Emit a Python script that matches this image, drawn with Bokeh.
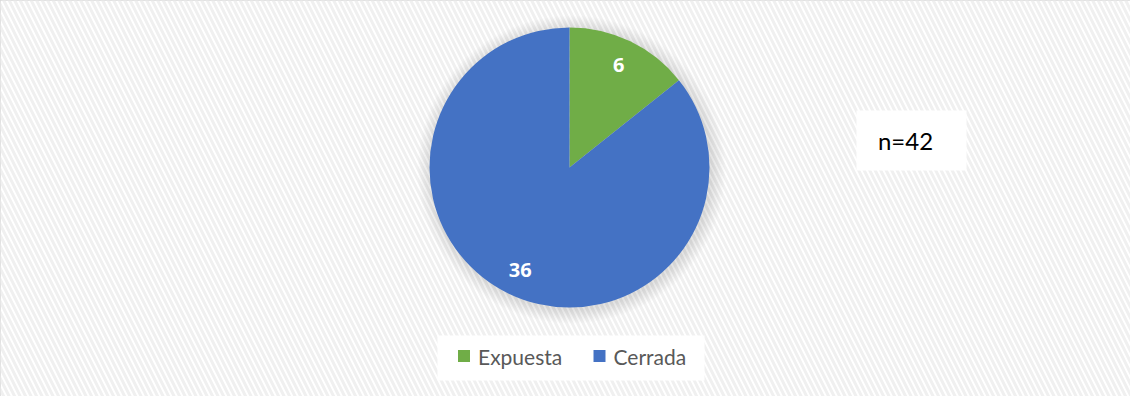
import math
from bokeh.plotting import figure
from bokeh.models import Range1d, ColumnDataSource
from bokeh.core.properties import value
from bokeh.embed import file_html
from bokeh.resources import INLINE

# ---- data ----
categories = ["Expuesta", "Cerrada"]
values = [6, 36]
colors = ["#70AD47", "#4472C4"]
note_text = "n=42"

W, H = 1130, 396
p = figure(width=W, height=H, output_backend="svg", toolbar_location=None,
           x_range=Range1d(0, W), y_range=Range1d(0, H), min_border=0)
p.axis.visible = False
p.grid.visible = False
p.outline_line_color = "#d9d9d9"
p.outline_line_width = 2
p.background_fill_color = "white"
p.border_fill_color = "white"

# hatched background
p.quad(left=[0], right=[W], bottom=[0], top=[H], fill_color="white",
       line_color=None, hatch_pattern="\\", hatch_color="#f0f0f0",
       hatch_scale=11, hatch_weight=3)

cx, cy, r = 569, 229, 140

# soft shadow
for k in range(14, 0, -1):
    p.circle(x=[cx + 2], y=[cy - 2], radius=r + k, fill_color="#a0a0a0",
             fill_alpha=0.025, line_color=None)

total = sum(values)
starts, ends, mids = [], [], []
cum = 0.0
for v in values:
    a0 = 90 - (cum + v) / total * 360
    a1 = 90 - cum / total * 360
    starts.append(math.radians(a0))
    ends.append(math.radians(a1))
    mids.append(math.radians((a0 + a1) / 2))
    cum += v

src = ColumnDataSource(dict(cat=categories, val=values, color=colors,
                            start=starts, end=ends))
p.wedge(x=cx, y=cy, radius=r, start_angle="start", end_angle="end",
        fill_color="color", line_color=None, source=src)

# data labels
lr = 0.81 * r
p.text(x=[cx + lr * math.cos(m) for m in mids],
       y=[cy + lr * math.sin(m) for m in mids],
       text=[str(v) for v in values], text_color="white",
       text_font=value("Open Sans"), text_font_style="bold",
       text_font_size="20px", text_align="center", text_baseline="middle")

# n box
p.quad(left=[856], right=[966], bottom=[226], top=[286], fill_color="white",
       line_color=None)
p.text(x=[905], y=[256], text=[note_text], text_color="#000000",
       text_font=value("Lato"), text_font_size="24px",
       text_align="center", text_baseline="middle")

# legend
p.quad(left=[437], right=[704], bottom=[16], top=[61], fill_color="white",
       line_color=None)
lx = [463.5, 599]
p.rect(x=lx, y=[40.5, 40.5], width=12, height=12, fill_color=colors,
       line_color=None)
p.text(x=[x + 14 for x in lx], y=[40.5, 40.5], text=categories,
       text_color="#595959", text_font=value("Lato"), text_font_size="21px",
       text_align="left", text_baseline="middle")

open("out.html", "w").write(file_html(p, INLINE))
